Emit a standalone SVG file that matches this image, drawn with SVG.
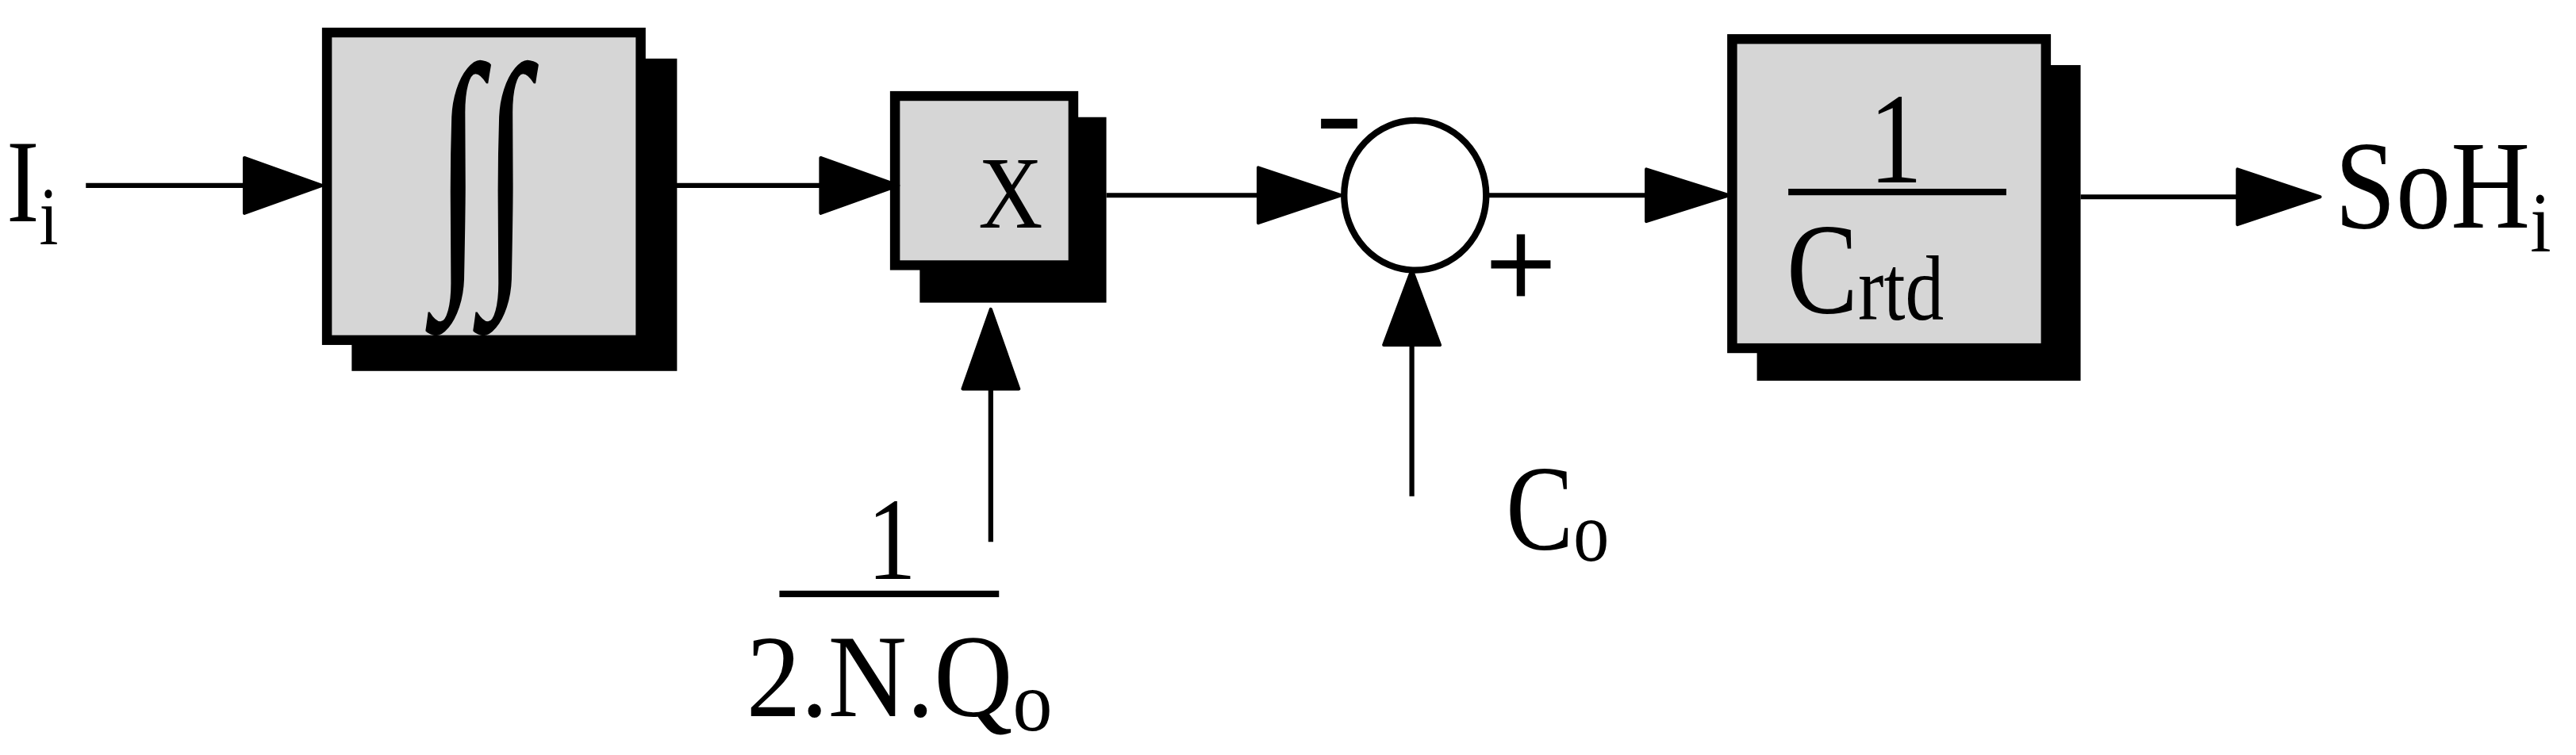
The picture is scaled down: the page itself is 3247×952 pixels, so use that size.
<svg xmlns="http://www.w3.org/2000/svg" width="3247" height="952" viewBox="0 0 3247 952">
<style>
text{font-family:"Liberation Serif","Times New Roman",Times,serif;fill:#000}
.blk{fill:#d6d6d6;stroke:#000;stroke-width:6}
.sh{fill:#000}
.ln{stroke:#000;stroke-width:3;fill:none}
.ah{fill:#000;stroke:#000;stroke-width:2;stroke-linejoin:round}
</style>
<rect width="3247" height="952" fill="#fff"/>
<g transform="scale(2.0814,2.0517)">
<g id="integrator">
<rect class="sh" x="213" y="36" width="197" height="192"/>
<rect class="blk" x="198" y="20" width="190" height="189"/>
<text x="0" y="0" font-size="150" text-anchor="middle" transform="translate(292 160) scale(0.7 1.15)">∫∫</text>
</g>
<g id="multiplier">
<rect class="sh" x="557" y="72" width="113" height="114"/>
<rect class="blk" x="542" y="59" width="108" height="104"/>
<text x="0" y="0" font-size="60" text-anchor="middle" transform="translate(612 140) scale(0.9 1.05)">X</text>
</g>
<g id="sum">
<ellipse cx="857" cy="120" rx="43" ry="46" fill="#fff" stroke="#000" stroke-width="4"/>
<rect x="800" y="73" width="22" height="6" fill="#000"/>
<rect x="903" y="160" width="36" height="5" fill="#000"/>
<rect x="918.5" y="144" width="5" height="38" fill="#000"/>
</g>
<g id="gain">
<rect class="sh" x="1064" y="40" width="196" height="194"/>
<rect class="blk" x="1049" y="24" width="190" height="190"/>
<text x="0" y="0" font-size="72" text-anchor="middle" transform="translate(1148 112) scale(0.9 1.1)">1</text>
<rect x="1083" y="116" width="132" height="4" fill="#000"/>
<text x="0" y="0" font-size="72" transform="translate(1082 192) scale(0.9 1.1)">C<tspan font-size="52" dy="4">rtd</tspan></text>
</g>
<g id="in_label"><text x="0" y="0" font-size="66" transform="translate(4 136) scale(0.9 1.1)">I<tspan font-size="46" dy="13">i</tspan></text></g>
<g id="gain_label">
<text x="0" y="0" font-size="66" text-anchor="middle" transform="translate(540 356) scale(0.9 1.1)">1</text>
<rect x="472" y="363" width="133" height="4" fill="#000"/>
<text x="0" y="0" font-size="66" transform="translate(452 440) scale(1 1.1)">2.N.Q<tspan font-size="48" dy="8">o</tspan></text>
</g>
<g id="c0_label"><text x="0" y="0" font-size="68" transform="translate(912 338) scale(0.9 1.1)">C<tspan font-size="48" dy="6">o</tspan></text></g>
<g id="out_label"><text x="0" y="0" font-size="70" transform="translate(1414 140) scale(0.95 1.1)">SoH<tspan font-size="48" dy="13">i</tspan></text></g>
<g id="connectors">
<line class="ln" x1="52" y1="114" x2="150" y2="114"/>
<polygon class="ah" points="148,97 195,114 148,131"/>
<line class="ln" x1="390" y1="114" x2="500" y2="114"/>
<polygon class="ah" points="497,97 544,114 497,131"/>
<line class="ln" x1="670" y1="120" x2="765" y2="120"/>
<polygon class="ah" points="762,103 812,120 762,137"/>
<line class="ln" x1="900" y1="120" x2="1000" y2="120"/>
<polygon class="ah" points="997,104 1047,120 997,136"/>
<line class="ln" x1="1260" y1="121" x2="1358" y2="121"/>
<polygon class="ah" points="1355,104 1405,121 1355,138"/>
<line class="ln" x1="600" y1="333" x2="600" y2="238"/>
<polygon class="ah" points="583,239 600,190 617,239"/>
<line class="ln" x1="855" y1="305" x2="855" y2="210"/>
<polygon class="ah" points="838,212 855,166 872,212"/>
</g>
</g>
</svg>
